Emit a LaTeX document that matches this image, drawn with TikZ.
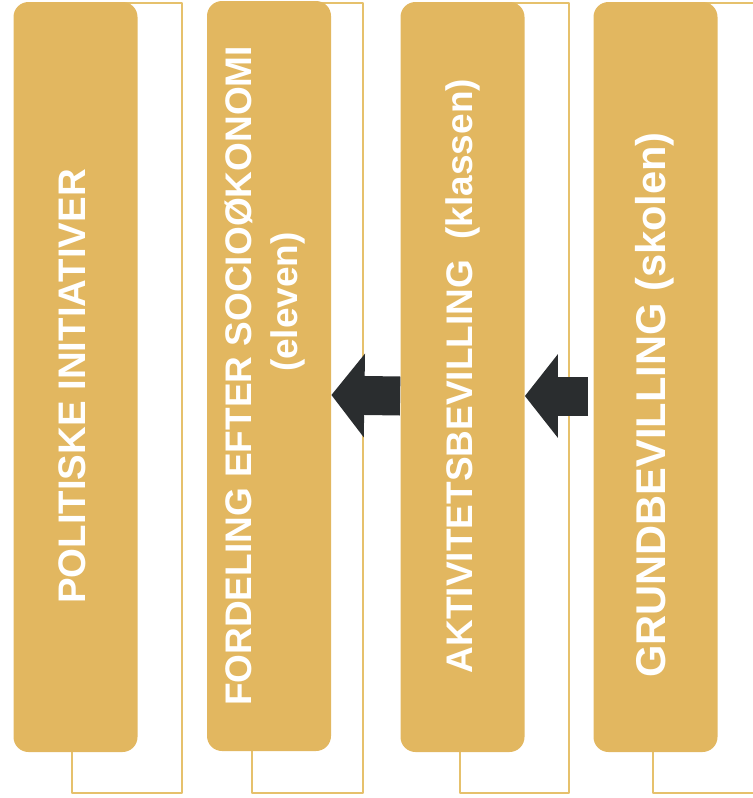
\documentclass[tikz,border=0pt]{standalone}
\usepackage{fontspec}
\setmainfont{Liberation Sans}
\usetikzlibrary{arrows.meta}
\definecolor{guld}{RGB}{226,183,96}
\definecolor{rammefarve}{RGB}{230,193,108}
\definecolor{pilfarve}{RGB}{42,45,47}

\begin{document}
\begin{tikzpicture}[line cap=round,line join=round,x=0.5pt,y=-0.5pt,
  felt/.style={fill=guld,rounded corners=7.5pt,minimum width=62pt,minimum height=375pt,inner sep=0pt},
  tekst/.style={rotate=90,text=white,font=\bfseries\fontsize{#1}{23}\selectfont,align=center,inner sep=0pt},
  tekst/.default=18.5,
  ramme/.style={draw=rammefarve,line width=0.7pt},
  blokpil/.style={draw=pilfarve,line width=19.5pt,line cap=butt,-{Triangle[width=41pt,length=16.5pt]}}]
\useasboundingbox (0,0) rectangle (753,798);
% rammerne bag felterne
\draw [ramme] (72,3) rectangle (182,793);
\draw [ramme] (252,3) rectangle (363,793);
\draw [ramme] (460,3) rectangle (569,793);
\draw [ramme] (653,3) rectangle (780,793);
% felterne
\node [felt] (b1) at (75.5,377) {};
\node [felt] (b2) at (269,376) {};
\node [felt] (b3) at (462.5,377) {};
\node [felt] (b4) at (655.5,377) {};
\node [tekst=19.2] (t1) at (72,386.5) {POLITISKE INITIATIVER};
\node [tekst] (t2) at (265,376) {FORDELING EFTER SOCIOØKONOMI\\\hspace*{74pt}(eleven)};
\node [tekst] (t3) at (463,376) {AKTIVITETSBEVILLING\ \ (klassen)};
\node [tekst=20.8] (t4) at (655,405) {GRUNDBEVILLING (skolen)};
% pilene
\draw [blokpil] ([yshift=-9.5pt]b3.west) -- ([yshift=-9.5pt]b2.east);
\draw [blokpil,shorten <=2.5pt] ([yshift=-9.5pt]b4.west) -- ([yshift=-9.5pt]b3.east);
\end{tikzpicture}
\end{document}
